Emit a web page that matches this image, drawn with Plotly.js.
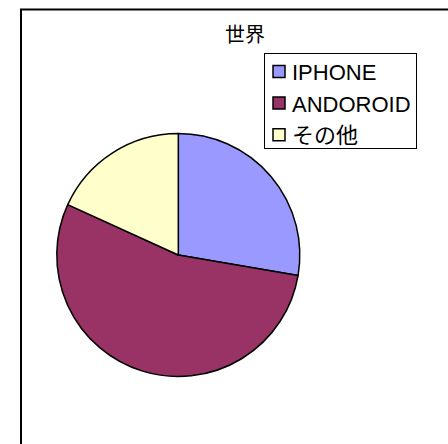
<!DOCTYPE html>
<html>
<head>
<meta charset="utf-8">
<script src="https://cdn.plot.ly/plotly-3.0.1.min.js"></script>
<style>
  html, body { margin: 0; padding: 0; background: #ffffff; overflow: hidden; }
  #chart { width: 448px; height: 444px; }
</style>
</head>
<body>
<div id="chart"></div>
<script>
const chartTitle = "世界";
const categories = ["IPHONE", "ANDOROID", "その他"];
const shares = [27.7, 54.1, 18.2];
const sliceColors = ["#9999FF", "#993366", "#FFFFCC"];

const W = 448, H = 444;

const trace = {
  type: "pie",
  labels: categories,
  values: shares,
  sort: false,
  direction: "clockwise",
  rotation: 0,
  textinfo: "none",
  marker: { colors: sliceColors, line: { color: "#000000", width: 1.5 } },
  domain: { x: [56.8 / W, 299.8 / W], y: [1 - 376.5 / H, 1 - 133.5 / H] }
};

const layout = {
  width: W,
  height: H,
  margin: { l: 0, r: 0, t: 0, b: 0 },
  paper_bgcolor: "#ffffff",
  plot_bgcolor: "#ffffff",
  title: {
    text: chartTitle,
    x: 245 / W, xanchor: "center",
    y: 1 - 35 / H, yanchor: "middle",
    xref: "paper", yref: "paper",
    font: { family: "Noto Sans CJK JP, sans-serif", size: 20, color: "#000000" }
  },
  showlegend: true,
  legend: {
    x: 264 / W, xanchor: "left",
    y: 1 - 52.7 / H, yanchor: "top",
    bordercolor: "#000000",
    borderwidth: 1,
    bgcolor: "#ffffff",
    font: { family: "Liberation Sans, Noto Sans CJK JP, sans-serif", size: 22, color: "#000000" },
    traceorder: "normal"
  },
  shapes: [{
    type: "rect", xref: "paper", yref: "paper",
    x0: 21 / W, x1: 1.1, y0: -0.1, y1: 1 - 9.5 / H,
    line: { color: "#000000", width: 2 },
    fillcolor: "rgba(0,0,0,0)",
    layer: "below"
  }]
};

Plotly.newPlot("chart", [trace], layout, { displayModeBar: false, staticPlot: true }).then(function (gd) {
  // tighten the legend: symbol closer to the border, text closer to the symbol
  const textShift = 13, symShift = 6, upShift = 3, boxHeight = 95;
  gd.querySelectorAll(".legend .traces").forEach(function (tr) {
    tr.querySelectorAll("text.legendtext").forEach(function (t) {
      const x = parseFloat(t.getAttribute("x") || "0");
      t.setAttribute("x", x - textShift);
      t.querySelectorAll("tspan[x]").forEach(function (ts) {
        ts.setAttribute("x", parseFloat(ts.getAttribute("x")) - textShift);
      });
    });
    tr.querySelectorAll("g.layers").forEach(function (l) {
      const tf = l.getAttribute("transform") || "";
      l.setAttribute("transform", tf + " translate(" + (-symShift) + ",0)");
    });
  });
  const groups = gd.querySelector(".legend .groups");
  if (groups) {
    const tf = groups.getAttribute("transform") || "";
    groups.setAttribute("transform", tf + " translate(0," + (-upShift) + ")");
  }
  const bg = gd.querySelector(".legend rect.bg");
  if (bg) {
    const w = parseFloat(bg.getAttribute("width"));
    bg.setAttribute("width", w - textShift);
    bg.setAttribute("height", boxHeight);
  }
});
</script>
</body>
</html>
